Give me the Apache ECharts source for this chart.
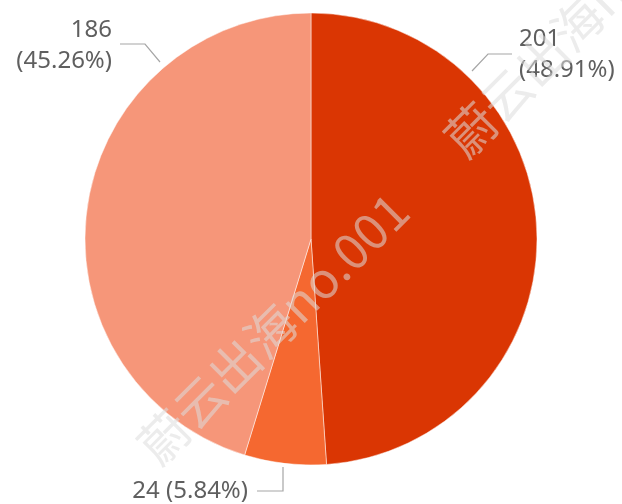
<!DOCTYPE html>
<html>
<head>
<meta charset="utf-8">
<style>
  html, body { margin: 0; padding: 0; background: #fff; }
  #main { width: 622px; height: 504px; }
</style>
<script src="https://cdn.jsdelivr.net/npm/echarts@6/dist/echarts.min.js"></script>
</head>
<body>
<div id="main"></div>
<script>
// 数据
var categories = ['类别1', '类别2', '类别3'];
var values = [201, 24, 186];
var colors = ['#DA3603', '#F56830', '#F69679'];
var watermarkText = '蔚云出海no.001';

var total = values.reduce(function (a, b) { return a + b; }, 0);

// 标签位置 (文字和引导线)
var labelPos = [
    { x: 519, y: 55, align: 'left', verticalAlign: 'middle', labelLinePoints: [[472, 71], [488, 54], [512, 54]] },
    { x: 248, y: 491, align: 'right', verticalAlign: 'middle', labelLinePoints: [[283, 467], [283, 491], [257, 491]] },
    { x: 112, y: 46, align: 'right', verticalAlign: 'middle', labelLinePoints: [[160, 62], [145, 44], [120, 44]] }
];

var myChart = echarts.init(document.getElementById('main'));

var option = {
    animation: false,
    color: colors,
    series: [{
        type: 'pie',
        center: [311, 239],
        radius: 226,
        startAngle: 90,
        data: categories.map(function (c, i) {
            return { name: c, value: values[i] };
        }),
        itemStyle: {
            borderColor: 'rgba(255,255,255,0.6)',
            borderWidth: 0.8
        },
        label: {
            show: true,
            position: 'outside',
            color: '#5f5f5f',
            fontFamily: 'Noto Sans',
            fontSize: 24,
            lineHeight: 31,
            overflow: 'none',
            formatter: function (p) {
                var pct = (p.value / total * 100).toFixed(2);
                if (p.dataIndex == 1) {
                    return p.value + ' (' + pct + '%)';
                }
                return p.value + '\n(' + pct + '%)';
            }
        },
        labelLine: {
            show: true,
            lineStyle: { color: '#a6a6a6', width: 1.2 }
        },
        labelLayout: function (params) {
            return labelPos[params.dataIndex];
        },
        emphasis: { disabled: true }
    }],
    // 水印
    graphic: [
        {
            type: 'text',
            x: 273,
            y: 328,
            rotation: Math.PI / 4,
            z: 100,
            style: {
                text: watermarkText,
                fill: 'rgba(220,220,220,0.55)',
                font: '50px "Noto Sans CJK SC"',
                align: 'center',
                verticalAlign: 'middle'
            }
        },
        {
            type: 'text',
            x: 580,
            y: 21,
            rotation: Math.PI / 4,
            z: 100,
            style: {
                text: watermarkText,
                fill: 'rgba(220,220,220,0.55)',
                font: '50px "Noto Sans CJK SC"',
                align: 'center',
                verticalAlign: 'middle'
            }
        }
    ]
};

myChart.setOption(option);
</script>
</body>
</html>
